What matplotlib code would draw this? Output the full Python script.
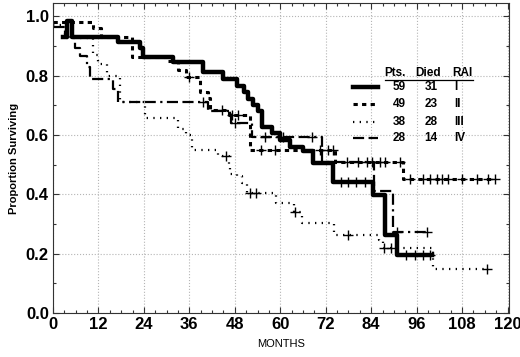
import numpy as np
import matplotlib.pyplot as plt
from matplotlib.ticker import MultipleLocator, FormatStrFormatter

plt.rcParams['font.family'] = ['Liberation Sans', 'DejaVu Sans']

# Kaplan-Meier steps (months, proportion surviving)
t_1 = [2.7, 3.8, 5.0, 17.2, 23.0, 23.8, 31.7, 39.6, 44.9, 48.5, 50.5, 51.5, 52.8,
       54.2, 55.2, 57.7, 59.9, 62.5, 66.0, 68.6, 73.9, 84.4, 87.6, 90.7]
s_1 = [0.93, 0.985, 0.93, 0.914, 0.892, 0.863, 0.846, 0.812, 0.79, 0.765, 0.745,
       0.72, 0.70, 0.68, 0.627, 0.606, 0.582, 0.56, 0.545, 0.505, 0.442, 0.397,
       0.263, 0.195]
end_1 = 100.0
cens_1 = [76, 78, 80, 82.5, 93.3, 95.5, 97.6, 99.5]

t_2 = [0, 10.5, 12.8, 20.8, 30.0, 33.0, 35.0, 38.8, 40.9, 41.5, 46.5, 52.0,
       74.5, 92.5]
s_2 = [0.98, 0.96, 0.93, 0.863, 0.85, 0.818, 0.795, 0.744, 0.724, 0.683, 0.667,
       0.549, 0.51, 0.45]
end_2 = 116.7
cens_2 = [36.0, 44.6, 47.2, 48.8, 55.0, 58.6, 70.5, 72.5, 74.0, 77.6, 80.5, 83.0,
          84.2, 86.3, 87.6, 91.6, 94.3, 97.7, 99.5, 101.4, 102.7, 104.3, 108.0,
          112.0, 114.9, 116.7]

t_3 = [0, 3.2, 10.5, 12.0, 14.2, 17.7, 24.2, 33.0, 35.0, 36.7, 43.5, 46.5, 46.8,
       48.5, 50.0, 51.2, 59.0, 63.5, 65.7, 74.3, 86.0, 87.0, 100.3]
s_3 = [0.97, 0.926, 0.87, 0.84, 0.80, 0.71, 0.656, 0.62, 0.60, 0.549, 0.53, 0.50,
       0.47, 0.463, 0.437, 0.405, 0.371, 0.34, 0.303, 0.263, 0.245, 0.219, 0.148]
end_3 = 114.5
cens_3 = [45.8, 52.0, 53.5, 63.8, 77.8, 87.5, 89.3, 114.5]

t_4 = [0, 3.2, 5.8, 7.0, 8.9, 9.8, 15.8, 17.1, 41.0, 47.0, 52.5, 71.0, 84.7, 89.7]
s_4 = [0.965, 0.93, 0.893, 0.865, 0.83, 0.787, 0.755, 0.711, 0.68, 0.64, 0.593,
       0.51, 0.41, 0.274]
end_4 = 98.7
cens_4 = [39.7, 48.0, 56.0, 60.0, 60.7, 68.4, 90.8, 98.7]

pts = ['59', '49', '38', '28']
died = ['31', '23', '28', '14']
rai = ['I', 'II', 'III', 'IV']

styles = [
    dict(color='black', lw=3.2, ls='-'),
    dict(color='black', lw=2.2, ls=(0, (1.4, 1.4))),
    dict(color='black', lw=1.6, ls=(0, (0.6, 2.4))),
    dict(color='black', lw=1.6, ls=(0, (5, 2, 5, 2, 1, 2))),
]

fig = plt.figure(figsize=(5.2, 3.57), dpi=100)
ax = fig.add_axes([0.1019, 0.1232, 0.877, 0.868])

groups = [(t_1, s_1, end_1, cens_1), (t_2, s_2, end_2, cens_2),
          (t_3, s_3, end_3, cens_3), (t_4, s_4, end_4, cens_4)]

for (t, s, end, cens), st in zip(groups, styles):
    tt = list(t) + [end]
    ss = list(s) + [s[-1]]
    ax.step(tt, ss, where='post', **st)
    idx = np.searchsorted(t, cens, side='right') - 1
    cy = np.array(s)[idx]
    ax.plot(cens, cy, ls='none', marker='+', color='black', ms=7, mew=1.0)

ax.set_xlim(0, 120.4)
ax.set_ylim(0, 1.044)
ax.xaxis.set_major_locator(MultipleLocator(12))
ax.xaxis.set_minor_locator(MultipleLocator(3))
ax.yaxis.set_major_locator(MultipleLocator(0.2))
ax.yaxis.set_minor_locator(MultipleLocator(0.1))
ax.yaxis.set_major_formatter(FormatStrFormatter('%.1f'))
ax.tick_params(which='both', direction='in', top=True, right=True,
               labelsize=12, width=0.8, color='#333333')
ax.tick_params(which='major', length=4)
ax.tick_params(which='minor', length=2)
for lab in ax.get_xticklabels() + ax.get_yticklabels():
    lab.set_fontweight('bold')
ax.tick_params(axis='x', pad=3)
ax.tick_params(axis='y', pad=3)
for sp in ax.spines.values():
    sp.set_linewidth(0.8)
    sp.set_color('#333333')
ax.grid(True, which='major', color='#b5b5b5', ls=':', lw=0.8)

ax.set_xlabel('MONTHS', fontsize=8, labelpad=5)
ax.set_ylabel('Proportion Surviving', fontsize=8, fontweight='bold', labelpad=5)

# legend table
tr = ax.transAxes
hy = 0.774
ax.text(0.75, hy, 'Pts.', transform=tr, ha='center', va='center', fontsize=8.5, fontweight='bold')
ax.text(0.822, hy, 'Died', transform=tr, ha='center', va='center', fontsize=8.5, fontweight='bold')
ax.text(0.897, hy, 'RAI', transform=tr, ha='center', va='center', fontsize=8.5, fontweight='bold')
ax.plot([0.728, 0.921], [0.751, 0.751], transform=tr, color='black', lw=0.9)
rows_y = [0.729, 0.674, 0.616, 0.565]
for y, p, d, r, st in zip(rows_y, pts, died, rai, styles):
    ax.plot([0.658, 0.713], [y, y], transform=tr, **st)
    ax.text(0.759, y, p, transform=tr, ha='center', va='center', fontsize=8.5, fontweight='bold')
    ax.text(0.829, y, d, transform=tr, ha='center', va='center', fontsize=8.5, fontweight='bold')
    ax.text(0.879, y, r, transform=tr, ha='left', va='center', fontsize=8.5, fontweight='bold')

fig.savefig('out.png', dpi=100)
